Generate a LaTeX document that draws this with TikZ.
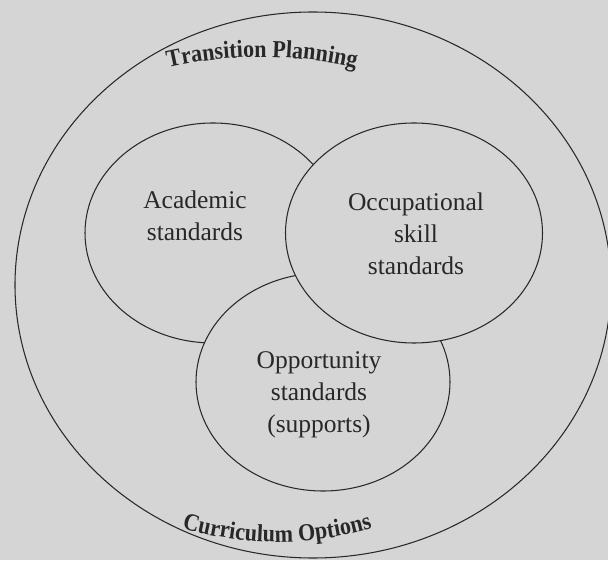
\documentclass[tikz,border=0pt]{standalone}
\usepackage{fontspec}
\setmainfont{Liberation Serif}
\newfontfamily\arcfont[FakeStretch=0.9]{Liberation Serif}
\usetikzlibrary{shapes.geometric,decorations.text}
\definecolor{bgcol}{RGB}{213,213,213}
\definecolor{inkcol}{RGB}{40,40,40}
\newcommand\arcstyle{\arcfont\bfseries\fontsize{24.5}{30}\selectfont\color{inkcol}}
\tikzset{
  ring/.style={ellipse, draw=inkcol, line width=1.05pt, fill=bgcol, inner sep=0pt, outer sep=0pt},
  lbl/.style={align=center, inner sep=0pt, anchor=north, text=inkcol,
              font=\fontsize{25.5}{32}\selectfont},
}
\begin{document}
\begin{tikzpicture}[x=1pt,y=1pt]
\fill[bgcol] (0,0) rectangle (608,560);
\useasboundingbox (0,0) rectangle (608,560);
\clip (0,0) rectangle (608,560);
% outer ellipse
\node[ring, minimum width=596pt, minimum height=546pt] (outer) at (313,275) {};
% inner ellipses (drawing order gives the overlaps)
\node[ring, minimum width=256pt, minimum height=220pt] (acad) at (213,327) {};
\node[ring, minimum width=254pt, minimum height=218pt] (oppo) at (323,178) {};
\node[ring, minimum width=257pt, minimum height=220pt] (occu) at (414,327) {};
% labels
\node[lbl] (acadtxt) at (195,369.5) {Academic\\standards};
\node[lbl] (occutxt) at (416,367.5) {Occupational\\skill\\standards};
\node[lbl] (oppotxt) at (319,209) {Opportunity\\standards\\(supports)};
% curved titles
\path[decorate, decoration={text along path, text align=center,
      text={|\arcstyle|Transition Planning}}]
  (262,83) ++(113:420) arc[start angle=113, end angle=67, radius=420];
\path[decorate, decoration={text along path, text align=center,
      text={|\arcstyle|Curriculum Options}}]
  (277,356) ++(245:338) arc[start angle=245, end angle=295, radius=338];
\end{tikzpicture}
\end{document}
